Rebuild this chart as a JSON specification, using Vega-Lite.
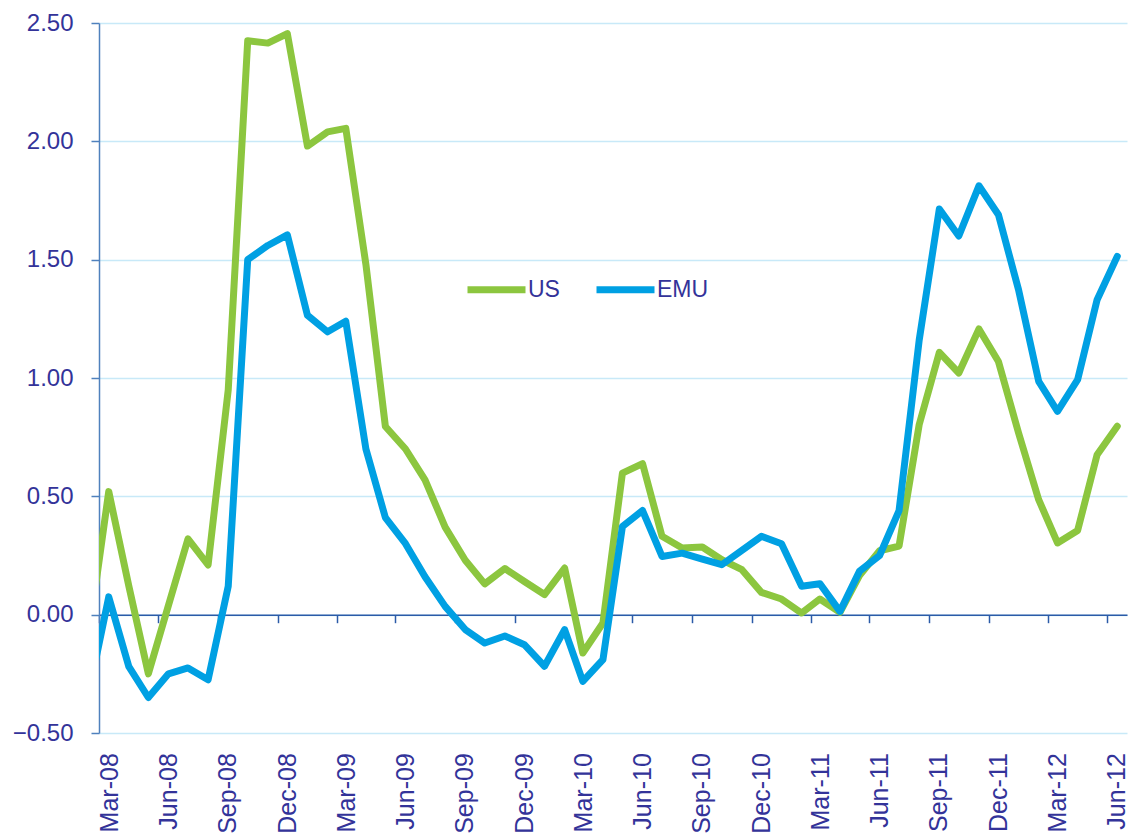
{
  "$schema": "https://vega.github.io/schema/vega-lite/v6.json",
  "autosize": {"type": "none"},
  "padding": {"left": 99, "top": 23, "right": 6, "bottom": 107},
  "width": 1028,
  "height": 710,
  "background": "white",
  "config": {"view": {"stroke": null}, "font": "Liberation Sans"},
  "data": {
    "values": [
      {"date": "2008-02-01", "US": -0.05, "EMU": -0.31},
      {"date": "2008-03-01", "US": 0.52, "EMU": 0.075},
      {"date": "2008-04-01", "US": 0.12, "EMU": -0.22},
      {"date": "2008-05-01", "US": -0.25, "EMU": -0.35},
      {"date": "2008-06-01", "US": 0.04, "EMU": -0.25},
      {"date": "2008-07-01", "US": 0.32, "EMU": -0.225},
      {"date": "2008-08-01", "US": 0.21, "EMU": -0.275},
      {"date": "2008-09-01", "US": 0.95, "EMU": 0.12},
      {"date": "2008-10-01", "US": 2.425, "EMU": 1.5},
      {"date": "2008-11-01", "US": 2.415, "EMU": 1.56},
      {"date": "2008-12-01", "US": 2.455, "EMU": 1.605},
      {"date": "2009-01-01", "US": 1.98, "EMU": 1.265},
      {"date": "2009-02-01", "US": 2.04, "EMU": 1.195},
      {"date": "2009-03-01", "US": 2.055, "EMU": 1.24},
      {"date": "2009-04-01", "US": 1.48, "EMU": 0.7},
      {"date": "2009-05-01", "US": 0.795, "EMU": 0.41},
      {"date": "2009-06-01", "US": 0.7, "EMU": 0.3},
      {"date": "2009-07-01", "US": 0.57, "EMU": 0.16},
      {"date": "2009-08-01", "US": 0.37, "EMU": 0.035},
      {"date": "2009-09-01", "US": 0.23, "EMU": -0.063},
      {"date": "2009-10-01", "US": 0.13, "EMU": -0.12},
      {"date": "2009-11-01", "US": 0.195, "EMU": -0.09},
      {"date": "2009-12-01", "US": 0.14, "EMU": -0.127},
      {"date": "2010-01-01", "US": 0.085, "EMU": -0.218},
      {"date": "2010-02-01", "US": 0.197, "EMU": -0.063},
      {"date": "2010-03-01", "US": -0.162, "EMU": -0.282},
      {"date": "2010-04-01", "US": -0.035, "EMU": -0.19},
      {"date": "2010-05-01", "US": 0.598, "EMU": 0.373},
      {"date": "2010-06-01", "US": 0.638, "EMU": 0.44},
      {"date": "2010-07-01", "US": 0.331, "EMU": 0.246},
      {"date": "2010-08-01", "US": 0.282, "EMU": 0.26},
      {"date": "2010-09-01", "US": 0.286, "EMU": 0.235},
      {"date": "2010-10-01", "US": 0.232, "EMU": 0.211},
      {"date": "2010-11-01", "US": 0.19, "EMU": 0.272},
      {"date": "2010-12-01", "US": 0.094, "EMU": 0.331},
      {"date": "2011-01-01", "US": 0.066, "EMU": 0.3},
      {"date": "2011-02-01", "US": 0.007, "EMU": 0.12},
      {"date": "2011-03-01", "US": 0.066, "EMU": 0.131},
      {"date": "2011-04-01", "US": 0.01, "EMU": 0.014},
      {"date": "2011-05-01", "US": 0.165, "EMU": 0.183},
      {"date": "2011-06-01", "US": 0.27, "EMU": 0.25},
      {"date": "2011-07-01", "US": 0.29, "EMU": 0.44},
      {"date": "2011-08-01", "US": 0.803, "EMU": 1.16},
      {"date": "2011-09-01", "US": 1.108, "EMU": 1.714},
      {"date": "2011-10-01", "US": 1.021, "EMU": 1.6},
      {"date": "2011-11-01", "US": 1.207, "EMU": 1.812},
      {"date": "2011-12-01", "US": 1.07, "EMU": 1.69},
      {"date": "2012-01-01", "US": 0.768, "EMU": 1.373},
      {"date": "2012-02-01", "US": 0.486, "EMU": 0.986},
      {"date": "2012-03-01", "US": 0.303, "EMU": 0.859},
      {"date": "2012-04-01", "US": 0.356, "EMU": 0.993},
      {"date": "2012-05-01", "US": 0.676, "EMU": 1.331},
      {"date": "2012-06-01", "US": 0.796, "EMU": 1.514}
    ]
  },
  "encoding": {
    "x": {
      "field": "date",
      "type": "temporal",
      "scale": {
        "domain": [
          {"year": 2008, "month": 2, "date": 15, "utc": true},
          {"year": 2012, "month": 6, "date": 16, "utc": true}
        ]
      },
      "axis": {
        "title": null,
        "values": [
          {"year": 2008, "month": 2, "date": 15, "utc": true},
          {"year": 2008, "month": 5, "date": 16, "utc": true},
          {"year": 2008, "month": 8, "date": 16, "utc": true},
          {"year": 2008, "month": 11, "date": 16, "utc": true},
          {"year": 2009, "month": 2, "date": 15, "utc": true},
          {"year": 2009, "month": 5, "date": 16, "utc": true},
          {"year": 2009, "month": 8, "date": 16, "utc": true},
          {"year": 2009, "month": 11, "date": 16, "utc": true},
          {"year": 2010, "month": 2, "date": 15, "utc": true},
          {"year": 2010, "month": 5, "date": 16, "utc": true},
          {"year": 2010, "month": 8, "date": 16, "utc": true},
          {"year": 2010, "month": 11, "date": 16, "utc": true},
          {"year": 2011, "month": 2, "date": 15, "utc": true},
          {"year": 2011, "month": 5, "date": 16, "utc": true},
          {"year": 2011, "month": 8, "date": 16, "utc": true},
          {"year": 2011, "month": 11, "date": 16, "utc": true},
          {"year": 2012, "month": 2, "date": 15, "utc": true},
          {"year": 2012, "month": 5, "date": 16, "utc": true}
        ],
        "labelExpr": "utcFormat(time(datum.value) + 20*86400000, '%b-%y')",
        "labelAngle": -90,
        "labelOffset": 10,
        "labelPadding": 130,
        "labelFontSize": 25,
        "labelFont": "Liberation Sans",
        "labelColor": "#333399",
        "labelOverlap": false,
        "labelFlush": false,
        "labelBound": false,
        "offset": -118.3,
        "tickSize": 8,
        "tickColor": "#2B5BA8",
        "tickWidth": 1.5,
        "domainColor": "#2B5BA8",
        "domainWidth": 1.5,
        "grid": false
      }
    }
  },
  "layer": [
    {
      "mark": {"type": "line", "strokeWidth": 7, "clip": true, "strokeJoin": "round", "strokeCap": "round"},
      "encoding": {
        "y": {
          "field": "US",
          "type": "quantitative",
          "scale": {"domain": [-0.5, 2.5], "nice": false, "zero": false},
          "axis": {
            "title": null,
            "values": [-0.5, 0, 0.5, 1, 1.5, 2, 2.5],
            "format": ".2f",
            "grid": true,
            "gridColor": "#C8E9F8",
            "gridWidth": 1.5,
            "domainColor": "#4F81BD",
            "domainWidth": 1.5,
            "tickColor": "#4F81BD",
            "tickWidth": 1.5,
            "tickSize": 8,
            "labelFontSize": 24,
            "labelFont": "Liberation Sans",
            "labelColor": "#333399",
            "labelPadding": 18
          }
        },
        "color": {
          "datum": "US",
          "scale": {"domain": ["US", "EMU"], "range": ["#8CC63F", "#00A0E3"]},
          "legend": {
            "orient": "none",
            "legendX": 365,
            "legendY": 234,
            "direction": "horizontal",
            "title": null,
            "symbolType": "stroke",
            "symbolStrokeWidth": 7,
            "symbolSize": 3364,
            "labelFontSize": 23,
            "labelFont": "Liberation Sans",
            "labelColor": "#333399",
            "columnPadding": 22,
            "labelOffset": -1
          }
        }
      }
    },
    {
      "mark": {"type": "line", "strokeWidth": 7, "clip": true, "strokeJoin": "round", "strokeCap": "round"},
      "encoding": {
        "y": {"field": "EMU", "type": "quantitative", "axis": {"title": null}},
        "color": {"datum": "EMU"}
      }
    }
  ]
}
